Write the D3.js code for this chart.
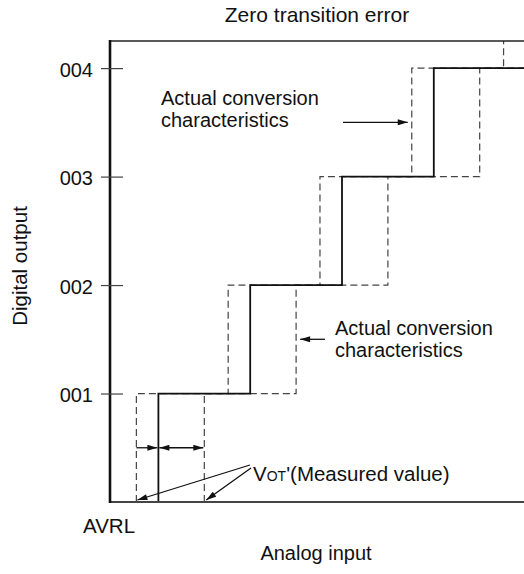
<!DOCTYPE html>
<html>
<head>
<meta charset="utf-8">
<script src="https://cdn.jsdelivr.net/npm/d3@7"></script>
<style>
  html, body { margin: 0; padding: 0; background: #fff; }
  svg text { font-family: "Liberation Sans", Arial, Helvetica, sans-serif; fill: #111; }
</style>
</head>
<body>
<svg id="chart" width="524" height="574"></svg>
<script>
// ---- data ----
const codeLevels = [1, 2, 3, 4];
const tickLabels = ["001", "002", "003", "004"];
const idealTransitions = [0.5, 1.5, 2.5, 3.5];          // solid step (LSB)
const earlyTransitions = [0.26, 1.26, 2.26, 3.26, 4.26]; // dashed step, left
const lateTransitions = [1.0, 2.0, 3.0, 4.0];           // dashed step, right
const titleText = "Zero transition error";
const xLabel = "Analog input";
const yLabel = "Digital output";
const originLabel = "AVRL";
const noteText = "Actual conversion";
const noteText2 = "characteristics";

// ---- layout ----
const W = 524, H = 574;
const plot = { left: 110, top: 41, right: 524, bottom: 502 };
const svg = d3.select("#chart");

const x = d3.scaleLinear().domain([0, 4.5]).range([112.5, 525.6]);
const y = d3.scaleLinear().domain([0, 4.25]).range([plot.bottom, plot.top]);

const defs = svg.append("defs");
defs.append("clipPath").attr("id", "clip")
  .append("rect").attr("x", plot.left).attr("y", plot.top)
  .attr("width", plot.right - plot.left).attr("height", plot.bottom - plot.top);

function marker(id) {
  defs.append("marker").attr("id", id)
    .attr("viewBox", "0 0 10 6").attr("refX", 10).attr("refY", 3)
    .attr("markerWidth", 11).attr("markerHeight", 6)
    .attr("markerUnits", "userSpaceOnUse").attr("orient", "auto-start-reverse")
    .append("path").attr("d", "M0,0 L10,3 L0,6 Z").attr("fill", "#111");
}
marker("arr");

// step path builder
function stepPoints(trans) {
  const pts = [];
  trans.forEach((t, i) => {
    pts.push([t, i]);
    pts.push([t, i + 1]);
  });
  pts.push([4.6, trans.length]);
  return pts;
}
const line = d3.line().x(d => x(d[0])).y(d => y(d[1]));

const g = svg.append("g").attr("clip-path", "url(#clip)");
g.append("path").datum(stepPoints(earlyTransitions))
  .attr("d", line).attr("fill", "none").attr("stroke", "#444")
  .attr("stroke-width", 1.2).attr("stroke-dasharray", "7,4");
g.append("path").datum(stepPoints(lateTransitions))
  .attr("d", line).attr("fill", "none").attr("stroke", "#444")
  .attr("stroke-width", 1.2).attr("stroke-dasharray", "7,4");
g.append("path").datum(stepPoints(idealTransitions))
  .attr("d", line).attr("fill", "none").attr("stroke", "#111")
  .attr("stroke-width", 1.8);

// frame: top line, bottom axis, left axis
svg.append("line").attr("x1", plot.left).attr("x2", W).attr("y1", plot.top).attr("y2", plot.top)
  .attr("stroke", "#222").attr("stroke-width", 1.6);
svg.append("line").attr("x1", plot.left).attr("x2", W).attr("y1", plot.bottom).attr("y2", plot.bottom)
  .attr("stroke", "#444").attr("stroke-width", 2);
svg.append("line").attr("x1", plot.left).attr("x2", plot.left).attr("y1", plot.top - 1).attr("y2", plot.bottom + 1)
  .attr("stroke", "#111").attr("stroke-width", 2.6);

// y ticks via d3 axis
const yAxis = d3.axisLeft(y).tickValues(codeLevels)
  .tickFormat((d, i) => tickLabels[i]).tickSize(9).tickPadding(8);
const ya = svg.append("g").attr("transform", `translate(${plot.left},0)`).call(yAxis);
ya.select(".domain").remove();
ya.selectAll(".tick line").attr("x2", -9).attr("x1", 13).attr("stroke", "#444").attr("stroke-width", 1.2);
ya.selectAll(".tick text").attr("font-size", 20).attr("font-family", "Liberation Sans, Arial, sans-serif")
  .attr("fill", "#111").attr("x", -17).attr("dy", "0.42em");

// titles
svg.append("text").attr("x", 317).attr("y", 22).attr("text-anchor", "middle")
  .attr("font-size", 21).text(titleText);
svg.append("text").attr("x", 316).attr("y", 560).attr("text-anchor", "middle")
  .attr("font-size", 20).text(xLabel);
svg.append("text").attr("transform", "translate(27,266) rotate(-90)").attr("text-anchor", "middle")
  .attr("font-size", 20.5).text(yLabel);
svg.append("text").attr("x", 83).attr("y", 533).attr("font-size", 20.5).text(originLabel);

// upper annotation
svg.append("text").attr("x", 161).attr("y", 105).attr("font-size", 20).text(noteText);
svg.append("text").attr("x", 161).attr("y", 127).attr("font-size", 20).text(noteText2);
svg.append("line").attr("x1", 343).attr("x2", x(earlyTransitions[3]) - 4)
  .attr("y1", y(3.5)).attr("y2", y(3.5)).attr("stroke", "#111").attr("stroke-width", 1.3)
  .attr("marker-end", "url(#arr)");

// lower annotation
svg.append("text").attr("x", 335).attr("y", 335).attr("font-size", 20).text(noteText);
svg.append("text").attr("x", 335).attr("y", 357).attr("font-size", 20).text(noteText2);
svg.append("line").attr("x1", 325).attr("x2", x(lateTransitions[1]) + 4)
  .attr("y1", y(1.5)).attr("y2", y(1.5)).attr("stroke", "#111").attr("stroke-width", 1.3)
  .attr("marker-end", "url(#arr)");

// zero transition error arrows
const ey = y(0.5);
svg.append("line").attr("x1", x(earlyTransitions[0])).attr("x2", x(idealTransitions[0]) - 1)
  .attr("y1", ey).attr("y2", ey).attr("stroke", "#111").attr("stroke-width", 1.3)
  .attr("marker-end", "url(#arr)");
svg.append("line").attr("x1", x(idealTransitions[0]) + 1).attr("x2", x(lateTransitions[0]) - 1)
  .attr("y1", ey).attr("y2", ey).attr("stroke", "#111").attr("stroke-width", 1.3)
  .attr("marker-start", "url(#arr)").attr("marker-end", "url(#arr)");

// V_OT' label
const vt = svg.append("text").attr("x", 253).attr("y", 481).attr("font-size", 20.5);
vt.append("tspan").text("V");
vt.append("tspan").attr("font-size", 14).text("OT");
vt.append("tspan").text("'(Measured value)");
svg.append("line").attr("x1", 250).attr("y1", 465).attr("x2", x(earlyTransitions[0]) + 1).attr("y2", plot.bottom - 2)
  .attr("stroke", "#111").attr("stroke-width", 1.3).attr("marker-end", "url(#arr)");
svg.append("line").attr("x1", 251).attr("y1", 468).attr("x2", x(lateTransitions[0]) + 2).attr("y2", plot.bottom - 2)
  .attr("stroke", "#111").attr("stroke-width", 1.3).attr("marker-end", "url(#arr)");
</script>
</body>
</html>
